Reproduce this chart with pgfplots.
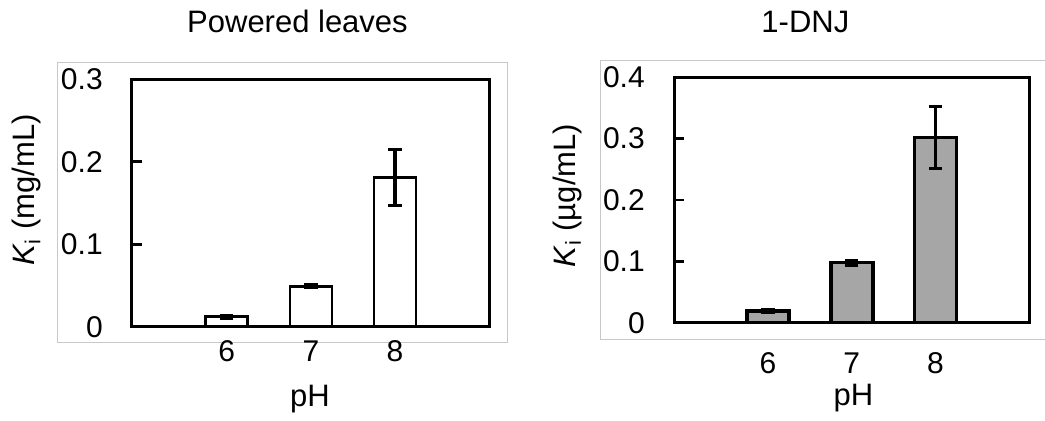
\documentclass[border=0pt]{standalone}
\usepackage{fontspec}
\setmainfont{Liberation Sans}
\usepackage{pgfplots}
\pgfplotsset{compat=1.18}

\definecolor{barfill}{HTML}{A6A6A6}
\definecolor{framegray}{HTML}{C8C8C8}

\pgfplotsset{
  panel/.style={
    scale only axis,
    anchor=south west,
    ybar,
    bar width=21pt,
    ymin=0,
    xtick={6,7,8},
    ytick pos=left,
    tick align=inside,
    major tick length=5pt,
    x tick style={draw=none},
    y tick style={black, line width=1.3pt},
    axis line style={line width=1.3pt},
    ticklabel style={font=\fontsize{15}{17}\selectfont, inner sep=0pt},
    /pgf/number format/assume math mode=true,
    /pgf/number format/fixed,
    yticklabel style={anchor=east},
    xticklabel style={anchor=base},
  },
  errs/.style={
    error bars/.cd, y dir=both, y explicit,
    error bar style={line width=1.8pt, black, solid},
    error mark options={rotate=90, line width=1.6pt, mark size=3.3pt, black},
  },
  every error bar/.append style={line width=1.8pt},
}

\begin{document}
\begin{tikzpicture}
\useasboundingbox (0,0) rectangle (522.5pt,-210pt);

% light chart-area frames
\draw[framegray, line width=0.5pt] (28.85pt,-31.35pt) rectangle (253.65pt,-171.35pt);
\draw[framegray, line width=0.5pt] (530pt,-30.35pt) -- (300pt,-30.35pt) -- (300pt,-169.65pt) -- (530pt,-169.65pt);

% left panel: powdered leaves
\begin{axis}[panel,
  at={(65.85pt,-163.35pt)},
  width=178.8pt, height=123.7pt,
  xmin=4.87, xmax=9.12,
  ymax=0.3, ytick={0,0.1,0.2,0.3},
  xticklabel style={yshift=-17.5pt},
  yticklabel style={xshift=-14.3pt},
]
  \addplot[fill=white, draw=black, line width=1.4pt, errs]
    coordinates {
      (6,0.012) +- (0,0.0015)
      (7,0.049) +- (0,0.0015)
      (8,0.181) +- (0,0.034)
    };
\end{axis}

% right panel: 1-DNJ
\begin{axis}[panel,
  at={(337.15pt,-161.35pt)},
  width=177.5pt, height=122.7pt,
  xmin=4.88, xmax=9.12,
  ymax=0.4, ytick={0,0.1,0.2,0.3,0.4},
  xticklabel style={yshift=-25.3pt},
  yticklabel style={xshift=-14.6pt},
]
  \addplot[fill=barfill, draw=black, line width=1.9pt, errs]
    coordinates {
      (6,0.019) +- (0,0.003)
      (7,0.098) +- (0,0.004)
      (8,0.302) +- (0,0.050)
    };
\end{axis}

\tikzset{lab/.style={font=\fontsize{15.5}{18}\selectfont}}
\node[lab, anchor=base] at (148.75pt,-16.25pt) {Powered leaves};
\node[lab, anchor=base] at (402.7pt,-16.25pt) {1-DNJ};
\node[lab, anchor=base] at (155pt,-203.3pt) {pH};
\node[lab, anchor=base] at (426.7pt,-202.5pt) {pH};
\node[lab, rotate=90] at (13.3pt,-95pt) {\textit{K}\textsubscript{i} (mg/mL)};
\node[lab, rotate=90] at (283.5pt,-97.9pt) {\textit{K}\textsubscript{i} (µg/mL)};
\end{tikzpicture}
\end{document}
